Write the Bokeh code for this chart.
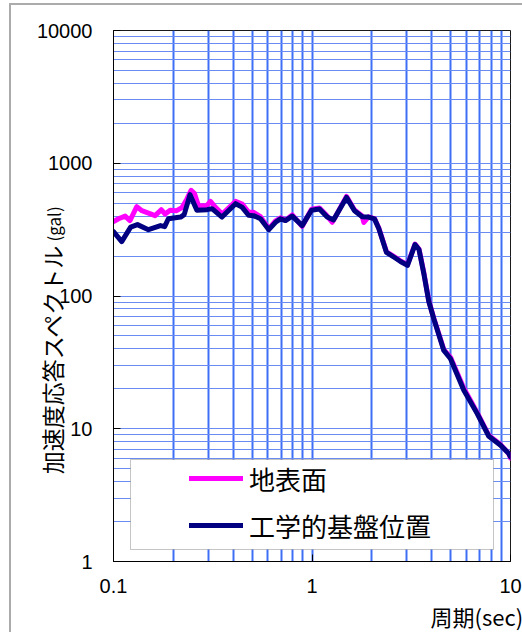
import math
from bokeh.plotting import figure
from bokeh.models import (FixedTicker, Legend, LegendItem, Label, BoxAnnotation,
                          ColumnDataSource)
from bokeh.embed import file_html
from bokeh.resources import INLINE

# ---- data -------------------------------------------------------------
series_names = ["地表面", "工学的基盤位置"]

period_surface = [0.100, 0.106, 0.1145, 0.121, 0.131, 0.139, 0.150, 0.162, 0.174, 0.182,
                  0.193, 0.208, 0.221, 0.234, 0.246, 0.256, 0.268, 0.295, 0.308, 0.3265,
                  0.353, 0.412, 0.445, 0.480, 0.508, 0.550, 0.606, 0.655, 0.694, 0.735,
                  0.795, 0.8925, 0.994, 1.091, 1.193, 1.264, 1.30, 1.492, 1.637, 1.790,
                  1.824, 1.926, 2.064, 2.170, 2.373, 2.604, 2.791, 3.027, 3.303, 3.459,
                  3.658, 3.876, 4.107, 4.613, 4.986, 5.818, 6.797, 7.775, 8.907, 9.80, 10.0]
sa_surface = [363, 382, 400, 370, 471, 439, 421, 403, 447, 414,
              443, 439, 463, 536, 625, 590, 479, 479, 516, 465,
              415, 516, 493, 427, 427, 396, 322, 368, 388, 372,
              408, 335, 450, 460, 400, 359, 385, 563, 445, 400,
              358, 395, 383, 325, 215, 197, 184, 172, 246, 226,
              150, 92, 68, 39.5, 34.5, 20.2, 13.2, 8.9, 7.6, 6.5, 6.0]

period_base = [0.100, 0.110, 0.122, 0.132, 0.150, 0.1725, 0.181, 0.189, 0.218, 0.227,
               0.243, 0.263, 0.296, 0.3135, 0.352, 0.412, 0.444, 0.479, 0.507, 0.550,
               0.606, 0.655, 0.694, 0.735, 0.795, 0.8925, 0.994, 1.091, 1.193, 1.283,
               1.492, 1.637, 1.790, 1.926, 2.064, 2.170, 2.373, 2.604, 2.791, 3.027,
               3.303, 3.459, 3.658, 3.876, 4.107, 4.613, 4.986, 5.818, 6.797, 7.775,
               8.907, 9.80, 10.0]
sa_base = [305, 257, 330, 345, 316, 339, 333, 382, 393, 410,
           580, 443, 447, 455, 393, 496, 467, 406, 403, 382,
           316, 359, 381, 370, 400, 339, 443, 452, 393, 374,
           553, 439, 396, 393, 381, 322, 213, 195, 182, 170,
           244, 224, 148, 90.9, 67.4, 38.9, 33.7, 19.5, 13.0, 8.78,
           7.51, 6.51, 6.14]

x_ticks = [0.1, 1, 10]
x_tick_labels = ["0.1", "1", "10"]
y_ticks = [1, 10, 100, 1000, 10000]
y_tick_labels = ["1", "10", "100", "1000", "10000"]

x_title = "周期(sec)"
y_title_main = "加速度応答スペクトル"
y_title_unit = "(gal)"

# ---- figure -----------------------------------------------------------
p = figure(width=522, height=632, x_axis_type="log", y_axis_type="log",
           x_range=(0.1, 10), y_range=(1, 10000),
           output_backend="svg", toolbar_location=None,
           min_border_left=113, min_border_right=12, min_border_top=30,
           min_border_bottom=71,
           background_fill_color="white", border_fill_color=None)
# chart-area edge (gray line left and top), drawn behind the transparent border
p.styles = {
    "background": ("linear-gradient(#ababab,#ababab) 9px 3px / 2px 100% no-repeat, "
                   "linear-gradient(#ababab,#ababab) 9px 3px / 100% 2px no-repeat, "
                   "white")
}
p.outline_line_color = "#1a1a1a"
p.outline_line_width = 1

# grid lines at every 1..9 x decade
x_grid = [m * d for d in [0.1, 1] for m in range(1, 10)] + [10]
y_grid = [m * d for d in [1, 10, 100, 1000] for m in range(1, 10)] + [10000]
p.xgrid.ticker = FixedTicker(ticks=x_grid)
p.ygrid.ticker = FixedTicker(ticks=y_grid)
p.xgrid.grid_line_color = "#3F6EF6"
p.xgrid.grid_line_width = 2
p.ygrid.grid_line_color = "#6A8CF2"
p.ygrid.grid_line_width = 1

for ax, ticks, labels in ((p.xaxis[0], x_ticks, x_tick_labels),
                          (p.yaxis[0], y_ticks, y_tick_labels)):
    ax.ticker = FixedTicker(ticks=ticks, minor_ticks=[])
    ax.major_label_overrides = dict(zip(ticks, labels))
    ax.major_tick_in = 7
    ax.major_tick_out = 0
    ax.minor_tick_in = 0
    ax.minor_tick_out = 0
    ax.axis_line_color = "black"
    ax.major_tick_line_color = "black"
    ax.major_label_text_font = "Liberation Sans"
    ax.major_label_text_font_size = "20px"
    ax.major_label_text_color = "black"
p.yaxis.major_label_standoff = 21
p.xaxis.major_label_standoff = 17

# y title: axis label (ideographic spaces at its end push the text down)
p.yaxis.axis_label = y_title_main + "\u3000" * 5 + "\u2002"
p.yaxis.axis_label_text_font = "Noto Sans CJK JP"
p.yaxis.axis_label_text_font_size = "23px"
p.yaxis.axis_label_text_font_style = "normal"
p.yaxis.axis_label_text_color = "black"
p.yaxis.axis_label_standoff = -35

# ---- curves -----------------------------------------------------------
src_s = ColumnDataSource(dict(x=period_surface, y=sa_surface))
src_b = ColumnDataSource(dict(x=period_base, y=sa_base))
r1 = p.line("x", "y", source=src_s, line_color="#FF00FF", line_width=5,
            line_join="round", line_cap="round")
r2 = p.line("x", "y", source=src_b, line_color="#000080", line_width=5,
            line_join="round", line_cap="round")

# ---- legend -----------------------------------------------------------
box = BoxAnnotation(left=130, right=493, top=459, bottom=549,
                    left_units="canvas", right_units="canvas",
                    top_units="canvas", bottom_units="canvas",
                    fill_color="white", fill_alpha=1.0,
                    line_color="#404040", line_width=1)
p.add_layout(box)

legend = Legend(items=[LegendItem(label=series_names[0], renderers=[r1]),
                       LegendItem(label=series_names[1], renderers=[r2])],
                location=(69, 8), padding=7, spacing=5, margin=0,
                glyph_width=54, glyph_height=42, label_height=42,
                label_standoff=6, label_text_font="Noto Sans CJK JP",
                label_text_font_size="26px", label_text_color="black",
                background_fill_alpha=0, border_line_alpha=0)
p.add_layout(legend)

# ---- other titles (side panels so they are not clipped to the frame) ----
p.add_layout(Label(x=53, y=241, x_units="canvas", y_units="canvas",
                   text=y_title_unit, angle=math.pi / 2, text_align="left",
                   text_baseline="middle", text_font="Noto Sans CJK JP",
                   text_font_size="17px", text_color="black"), "left")
p.add_layout(Label(x=430, y=615, x_units="canvas", y_units="canvas",
                   text=x_title, text_align="left", text_baseline="middle",
                   text_font="Noto Sans CJK JP", text_font_size="22px",
                   text_color="black"), "below")

open("out.html", "w").write(file_html(p, INLINE))
